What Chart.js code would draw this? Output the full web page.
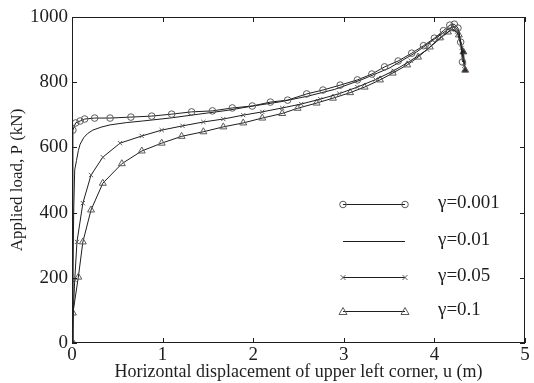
<!DOCTYPE html>
<html>
<head>
<meta charset="utf-8">
<script src="https://cdn.jsdelivr.net/npm/chart.js@4/dist/chart.umd.min.js"></script>
<style>
  html, body { margin: 0; padding: 0; background: #fff; }
  #wrap { width: 534px; height: 383px; }
</style>
</head>
<body>
<div id="wrap"><canvas id="loadChart"></canvas></div>
<script>
// load-displacement curves, one pair of arrays per damping value
var gammaLabels = ['\u03b3=0.001', '\u03b3=0.01', '\u03b3=0.05', '\u03b3=0.1'];

var u001 = [0, 0.01, 0.04, 0.09, 0.14, 0.25, 0.42, 0.65, 0.88, 1.1, 1.32, 1.55, 1.77, 1.99, 2.19, 2.38, 2.59, 2.77, 2.96, 3.15, 3.31, 3.45, 3.6, 3.75, 3.88, 4.0, 4.1, 4.17, 4.22, 4.26, 4.29, 4.31];
var p001 = [0, 653, 675, 681, 687, 690, 690, 693, 696, 702, 709, 712, 721, 727, 739, 745, 764, 776, 791, 807, 825, 847, 865, 889, 912, 935, 958, 975, 978, 966, 923, 862];

var u01 = [0, 0.01, 0.02, 0.03, 0.05, 0.07, 0.09, 0.13, 0.17, 0.23, 0.32, 0.42, 0.6, 0.78, 1.08, 1.4, 1.7, 2.0, 2.3, 2.6, 2.9, 3.2, 3.5, 3.8, 4.0, 4.15, 4.22, 4.27, 4.3, 4.33];
var p01 = [0, 220, 420, 531, 560, 590, 610, 630, 642, 653, 662, 669, 676, 681, 690, 702, 713, 727, 740, 757, 778, 808, 843, 892, 932, 962, 972, 955, 910, 850];

var u05 = [0, 0.03, 0.055, 0.12, 0.21, 0.34, 0.53, 0.77, 0.99, 1.22, 1.45, 1.67, 1.89, 2.1, 2.32, 2.53, 2.74, 2.95, 3.15, 3.35, 3.55, 3.74, 3.92, 4.08, 4.19, 4.25, 4.3, 4.33];
var p05 = [0, 193, 310, 429, 515, 570, 613, 635, 653, 666, 678, 687, 699, 709, 721, 733, 748, 765, 785, 808, 835, 866, 900, 938, 962, 955, 905, 850];

var u1 = [0, 0.01, 0.07, 0.12, 0.21, 0.34, 0.55, 0.77, 0.99, 1.21, 1.45, 1.67, 1.89, 2.1, 2.32, 2.49, 2.7, 2.88, 3.07, 3.23, 3.4, 3.54, 3.7, 3.82, 3.95, 4.06, 4.15, 4.2, 4.27, 4.32, 4.34];
var p1 = [0, 92, 202, 310, 408, 490, 550, 589, 613, 634, 648, 663, 675, 690, 704, 720, 736, 751, 768, 785, 807, 828, 853, 877, 908, 936, 954, 964, 945, 893, 837];

var xTicks = [0, 1, 2, 3, 4, 5];
var yTicks = [0, 200, 400, 600, 800, 1000];

var serif = 'Liberation Serif';
var ink = '#1e1e1e';
var markInk = '#5a5a5a';

function pairs(xs, ys) {
  var out = [];
  for (var i = 0; i < xs.length; i++) out.push({x: xs[i], y: ys[i]});
  return out;
}

// triangles at the tail come out as solid dark marks
var triFill = u1.map(function (v, i) {
  return (i === 0 || i >= u1.length - 2) ? '#3a2828' : 'rgba(255,255,255,0)';
});

var styles = ['circle', false, 'crossRot', 'triangle'];

// frame round the plot with small inward ticks on all four sides
var framePlugin = {
  id: 'frame',
  afterDatasetsDraw: function (chart) {
    var c = chart.ctx, a = chart.chartArea;
    var sx = chart.scales.x, sy = chart.scales.y;
    c.save();
    c.strokeStyle = ink;
    c.lineWidth = 1;
    c.strokeRect(a.left + 0.5, a.top + 0.5, a.right - a.left - 1, a.bottom - a.top - 1);
    c.beginPath();
    xTicks.forEach(function (v) {
      var px = Math.round(sx.getPixelForValue(v)) + 0.5;
      c.moveTo(px, a.bottom); c.lineTo(px, a.bottom - 5);
      c.moveTo(px, a.top); c.lineTo(px, a.top + 5);
    });
    yTicks.forEach(function (v) {
      var py = Math.round(sy.getPixelForValue(v)) + 0.5;
      c.moveTo(a.left, py); c.lineTo(a.left + 5, py);
      c.moveTo(a.right, py); c.lineTo(a.right - 5, py);
    });
    c.stroke();
    c.restore();
  }
};

function drawMark(c, style, x, y) {
  c.beginPath();
  if (style === 'circle') {
    c.arc(x, y, 3.3, 0, Math.PI * 2);
  } else if (style === 'crossRot') {
    c.moveTo(x - 2.5, y - 2.5); c.lineTo(x + 2.5, y + 2.5);
    c.moveTo(x + 2.5, y - 2.5); c.lineTo(x - 2.5, y + 2.5);
  } else if (style === 'triangle') {
    c.moveTo(x, y - 4); c.lineTo(x + 4, y + 3); c.lineTo(x - 4, y + 3); c.closePath();
  }
  c.stroke();
}

// legend sits inside the plot, lower right
var legendPlugin = {
  id: 'sideLegend',
  afterDraw: function (chart) {
    var c = chart.ctx;
    var rows = [204, 241, 277, 311];
    var x0 = 343, x1 = 405, tx = 438;
    c.save();
    c.font = '19px "' + serif + '"';
    c.textBaseline = 'middle';
    c.fillStyle = ink;
    rows.forEach(function (y, i) {
      c.strokeStyle = ink;
      c.lineWidth = 1;
      c.beginPath(); c.moveTo(x0, y + 0.5); c.lineTo(x1, y + 0.5); c.stroke();
      c.strokeStyle = markInk;
      if (styles[i]) { drawMark(c, styles[i], x0, y + 0.5); drawMark(c, styles[i], x1, y + 0.5); }
      c.fillText(gammaLabels[i], tx, y - 1);
    });
    c.restore();
  }
};

var seriesX = [u001, u01, u05, u1];
var seriesY = [p001, p01, p05, p1];
var radii = [3.3, 0, 3, 4];

var datasets = seriesX.map(function (xs, i) {
  return {
    label: gammaLabels[i],
    data: pairs(xs, seriesY[i]),
    showLine: true,
    borderColor: ink,
    borderWidth: 1,
    tension: 0,
    pointStyle: styles[i] || 'circle',
    pointRadius: radii[i],
    pointBorderColor: markInk,
    pointBorderWidth: 1,
    pointBackgroundColor: i === 3 ? triFill : 'rgba(255,255,255,0)'
  };
});

new Chart(document.getElementById('loadChart'), {
  type: 'scatter',
  data: {datasets: datasets},
  options: {
    responsive: true,
    maintainAspectRatio: false,
    animation: false,
    events: [],
    layout: {padding: {top: 17, right: 9, left: 0, bottom: 0}},
    plugins: {legend: {display: false}, tooltip: {enabled: false}},
    scales: {
      x: {
        type: 'linear', min: 0, max: 5,
        afterFit: function (s) { s.height = 40; },
        afterBuildTicks: function (s) { s.ticks = xTicks.map(function (v) { return {value: v}; }); },
        grid: {display: false, drawTicks: false},
        border: {display: false},
        ticks: {color: ink, padding: 1, font: {family: serif, size: 19},
          callback: function (v) { return String(v); }},
        title: {display: true, text: 'Horizontal displacement of upper left corner, u (m)',
          color: ink, font: {family: serif, size: 18}, padding: {top: 0, bottom: 0}}
      },
      y: {
        type: 'linear', min: 0, max: 1000,
        afterFit: function (s) { s.width = 72; },
        afterBuildTicks: function (s) { s.ticks = yTicks.map(function (v) { return {value: v}; }); },
        grid: {display: false, drawTicks: false},
        border: {display: false},
        ticks: {color: ink, padding: 4, font: {family: serif, size: 19},
          callback: function (v) { return String(v); }},
        title: {display: true, text: 'Applied load, P (kN)',
          color: ink, font: {family: serif, size: 17}, padding: {top: 7, bottom: 0}}
      }
    }
  },
  plugins: [framePlugin, legendPlugin]
});
</script>
</body>
</html>
